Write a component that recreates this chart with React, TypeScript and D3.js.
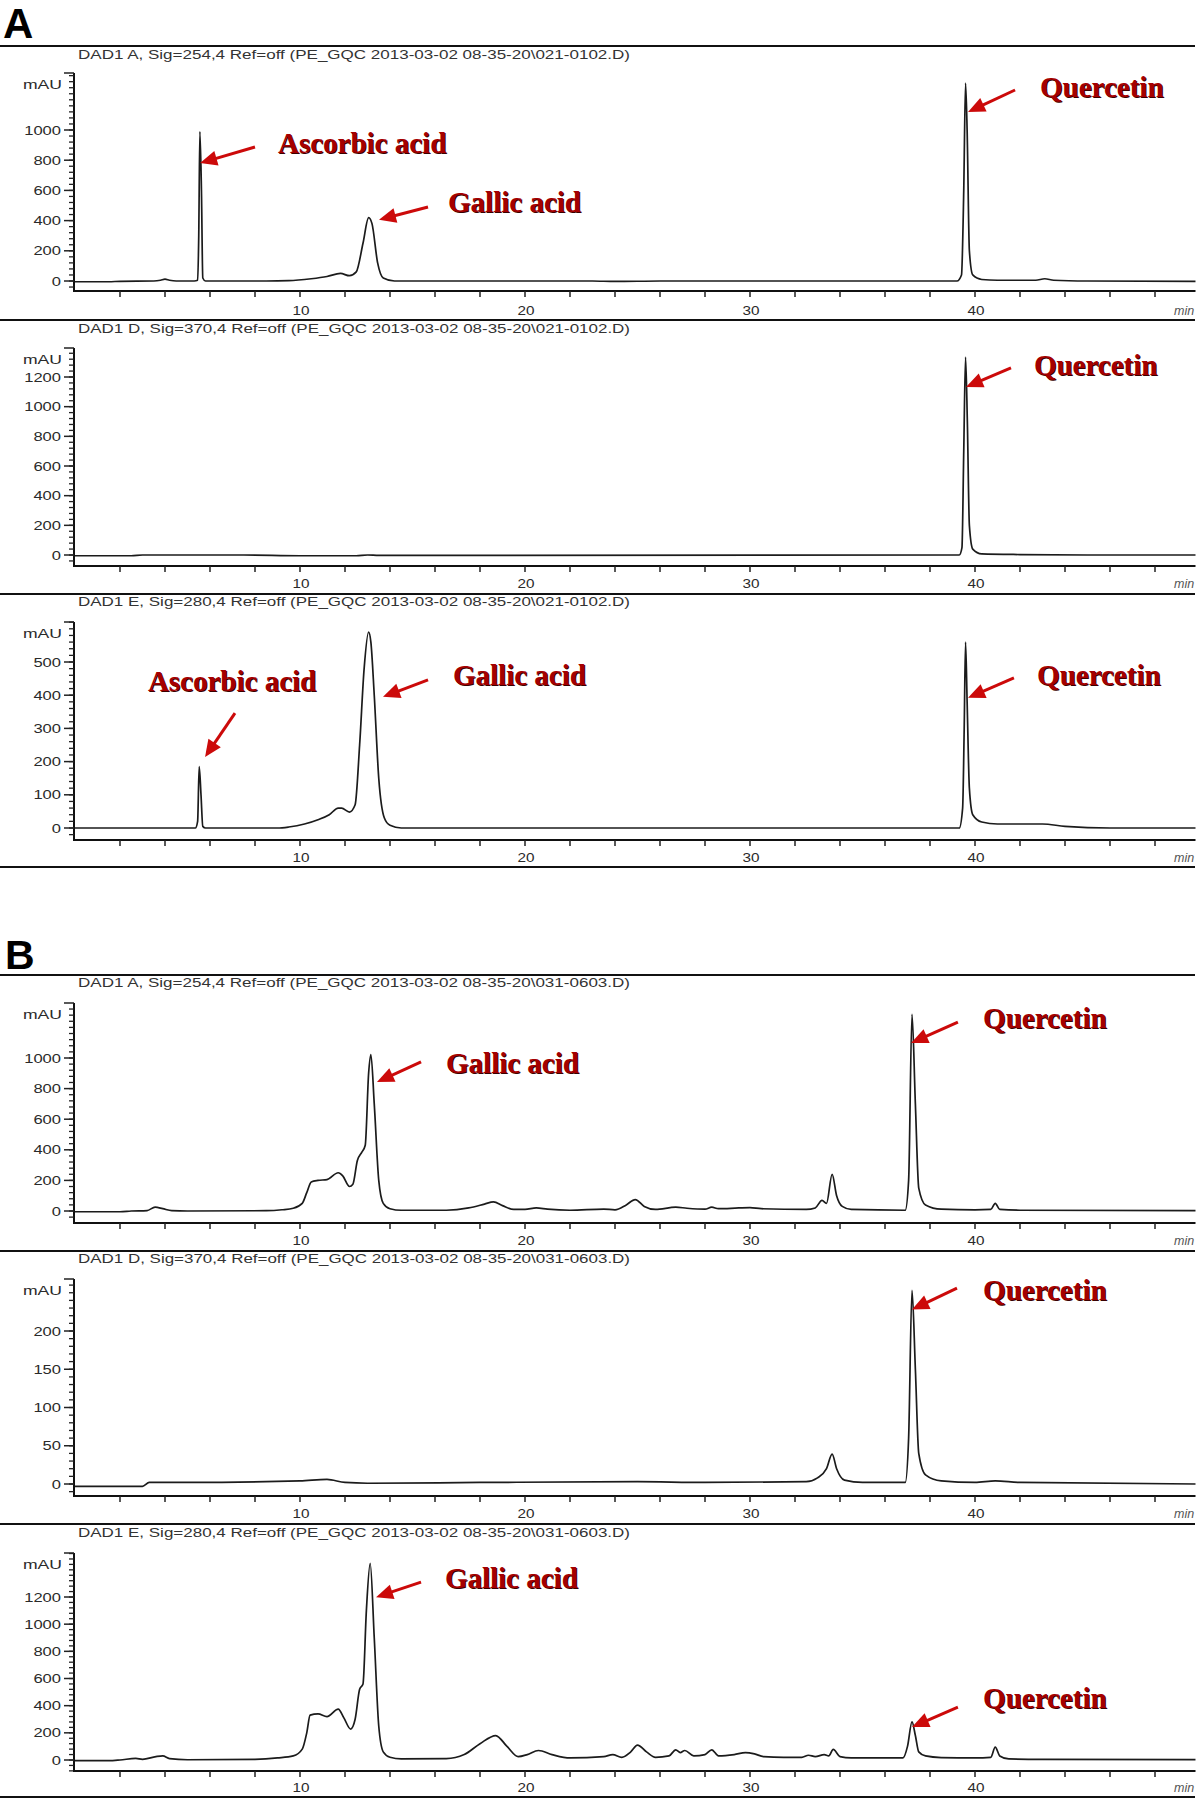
import React from 'react';
import * as d3 from 'd3';

type Pt = [number, number];

// ---------- DATA (time in min, absorbance in mAU) ----------
const A254: Pt[] = [[0,-5],[1.5,-5],[2,-2],[3.5,0],[3.8,5],[4.0,12],[4.2,5],[4.5,0],[5.3,0],[5.45,5],[5.5,300],[5.55,990],[5.62,600],[5.68,20],[5.8,0],[8.5,0],[9.5,2],[10.5,15],[11.2,30],[11.8,50],[12.2,35],[12.5,60],[12.8,250],[13.05,420],[13.2,380],[13.45,120],[13.7,20],[14.2,0],[23,0],[24,-3],[26,0],[39.2,0],[39.4,40],[39.5,600],[39.58,1310],[39.65,1000],[39.75,200],[39.9,40],[40.3,10],[41,5],[42.7,5],[43.1,15],[43.5,5],[45,0],[49.8,-3]];
const A370: Pt[] = [[0,-5],[2.5,-5],[3,0],[7.5,0],[10,-5],[12.5,-5],[13,0],[13.5,-3],[39.3,0],[39.42,50],[39.5,700],[39.58,1335],[39.66,900],[39.75,200],[39.9,40],[40.3,8],[42,3],[45,0],[49.8,0]];
const A280: Pt[] = [[0,0],[5.35,0],[5.45,20],[5.52,185],[5.6,100],[5.68,5],[5.8,0],[9,0],[9.5,3],[10.2,12],[10.8,25],[11.3,40],[11.7,60],[11.85,60],[12.2,48],[12.45,70],[12.65,250],[12.85,480],[13.05,590],[13.15,560],[13.3,400],[13.5,150],[13.75,30],[14,8],[14.5,0],[39.3,0],[39.45,60],[39.52,300],[39.58,560],[39.65,380],[39.75,120],[39.9,40],[40.3,18],[41,12],[43,12],[44,5],[46,0],[49.8,0]];
const B254: Pt[] = [[0,-5],[2,-5],[2.5,0],[3.2,3],[3.56,25],[3.9,15],[4.3,2],[5,0],[8.5,2],[9.2,8],[9.7,18],[10.1,50],[10.3,120],[10.5,190],[10.8,200],[11.2,205],[11.7,250],[11.9,230],[12.2,160],[12.35,175],[12.55,330],[12.75,385],[12.9,430],[13.05,900],[13.15,1023],[13.3,700],[13.5,200],[13.7,50],[14,15],[14.5,5],[16.5,5],[17.5,20],[18.2,45],[18.6,60],[19,35],[19.5,10],[20,10],[20.5,20],[21,12],[22,5],[23.5,12],[24,8],[24.5,40],[24.9,75],[25.3,30],[25.8,10],[26.7,25],[27.2,18],[28,12],[28.3,25],[28.6,15],[29.5,20],[30,22],[30.5,15],[32.5,10],[32.9,20],[33.2,70],[33.4,50],[33.65,240],[33.85,100],[34.1,30],[34.5,10],[36.9,5],[37.05,200],[37.2,1285],[37.35,700],[37.5,150],[37.8,40],[38.5,12],[40,8],[40.7,10],[40.9,50],[41.1,10],[42,5],[49.8,2]];
const B370: Pt[] = [[0,-3],[3,-3],[3.3,2],[5,2],[10,4],[11.2,6],[12,2],[13,1],[18,2],[25,3],[28,2],[32.5,3],[33,8],[33.4,20],[33.65,39],[33.85,20],[34.2,5],[35,2],[36.9,2],[37.05,60],[37.2,253],[37.35,150],[37.5,40],[37.8,12],[38.5,4],[40,2],[40.9,4],[42,2],[49.8,0]];
const B280: Pt[] = [[0,-5],[1.5,-5],[2,0],[2.7,12],[3,5],[3.6,25],[3.9,30],[4.2,10],[5,2],[8,5],[9,15],[9.7,30],[10.1,80],[10.3,200],[10.45,330],[10.8,340],[11.2,320],[11.7,375],[11.95,310],[12.25,228],[12.45,300],[12.65,520],[12.8,560],[12.95,1100],[13.12,1448],[13.3,900],[13.5,250],[13.7,60],[14,20],[14.5,8],[16.5,10],[17.3,40],[18,120],[18.7,180],[19.2,100],[19.7,25],[20.1,40],[20.6,70],[21.2,40],[22,15],[23.5,25],[23.9,40],[24.3,20],[24.7,60],[25,110],[25.4,60],[25.8,20],[26.4,30],[26.7,75],[26.9,55],[27.1,70],[27.5,30],[28,40],[28.3,75],[28.6,30],[29.3,40],[29.8,55],[30.2,45],[30.6,25],[31.5,20],[32.3,20],[32.6,35],[32.9,25],[33.3,40],[33.5,30],[33.7,78],[34,25],[34.5,15],[36.8,15],[37.0,100],[37.2,280],[37.35,180],[37.5,60],[37.8,30],[38.5,18],[40,15],[40.7,20],[40.9,95],[41.1,30],[41.5,8],[43,5],[49.8,3]];

const TITLES = [
  'DAD1 A, Sig=254,4 Ref=off (PE_GQC 2013-03-02 08-35-20\\021-0102.D)',
  'DAD1 D, Sig=370,4 Ref=off (PE_GQC 2013-03-02 08-35-20\\021-0102.D)',
  'DAD1 E, Sig=280,4 Ref=off (PE_GQC 2013-03-02 08-35-20\\021-0102.D)',
  'DAD1 A, Sig=254,4 Ref=off (PE_GQC 2013-03-02 08-35-20\\031-0603.D)',
  'DAD1 D, Sig=370,4 Ref=off (PE_GQC 2013-03-02 08-35-20\\031-0603.D)',
  'DAD1 E, Sig=280,4 Ref=off (PE_GQC 2013-03-02 08-35-20\\031-0603.D)',
];

const TICKS_A254 = [0, 200, 400, 600, 800, 1000];
const TICKS_A370 = [0, 200, 400, 600, 800, 1000, 1200];
const TICKS_A280 = [0, 100, 200, 300, 400, 500];
const TICKS_B254 = [0, 200, 400, 600, 800, 1000];
const TICKS_B370 = [0, 50, 100, 150, 200];
const TICKS_B280 = [0, 200, 400, 600, 800, 1000, 1200];

const X_LABELS = [10, 20, 30, 40];
const X_MINOR = [2, 4, 6, 8, 10, 12, 14, 16, 18, 20, 22, 24, 26, 28, 30, 32, 34, 36, 38, 40, 42, 44, 46, 48];

// annotations: label, arrow tip (t, v), arrow tail (t, v), text anchor (t, v)
type Note = { label: string; tip: Pt; tail: Pt; text: Pt };
const NOTES_A254: Note[] = [
  { label: 'Ascorbic acid', tip: [5.56, 781], tail: [8.0, 887], text: [9.02, 848] },
  { label: 'Gallic acid', tip: [13.51, 405], tail: [15.69, 490], text: [16.58, 457] },
  { label: 'Quercetin', tip: [39.69, 1119], tail: [41.78, 1265], text: [42.89, 1219] },
];
const NOTES_A370: Note[] = [
  { label: 'Quercetin', tip: [39.6, 1133], tail: [41.6, 1261], text: [42.62, 1214] },
];
const NOTES_A280: Note[] = [
  { label: 'Ascorbic acid', tip: [5.78, 214], tail: [7.11, 346], text: [3.24, 413] },
  { label: 'Gallic acid', tip: [13.69, 395], tail: [15.69, 446], text: [16.8, 431] },
  { label: 'Quercetin', tip: [39.69, 392], tail: [41.73, 452], text: [42.76, 431] },
];
const NOTES_B254: Note[] = [
  { label: 'Gallic acid', tip: [13.42, 843], tail: [15.38, 974], text: [16.49, 902] },
  { label: 'Quercetin', tip: [37.16, 1098], tail: [39.24, 1235], text: [40.36, 1196] },
];
const NOTES_B370: Note[] = [
  { label: 'Quercetin', tip: [37.2, 228], tail: [39.2, 256], text: [40.36, 240] },
];
const NOTES_B280: Note[] = [
  { label: 'Gallic acid', tip: [13.38, 1199], tail: [15.38, 1309], text: [16.44, 1265] },
  { label: 'Quercetin', tip: [37.2, 243], tail: [39.24, 390], text: [40.36, 382] },
];

// ---------- LAYOUT ----------
const X_END = 49.8;
const x = d3.scaleLinear().domain([0, 10]).range([75, 300]);

type Panel = {
  sep: number; titleY: number; axisTop: number; zeroY: number; refVal: number; refY: number;
  xAxisY: number; labelY: number; data: Pt[]; ticks: number[]; minor: number; title: string; notes: Note[];
};

const PANELS: Panel[] = [
  { sep: 46, titleY: 59, axisTop: 73, zeroY: 281, refVal: 1000, refY: 130, xAxisY: 291, labelY: 315, data: A254, ticks: TICKS_A254, minor: 40, title: TITLES[0], notes: NOTES_A254 },
  { sep: 320, titleY: 333, axisTop: 348, zeroY: 555, refVal: 1200, refY: 377, xAxisY: 566, labelY: 588, data: A370, ticks: TICKS_A370, minor: 40, title: TITLES[1], notes: NOTES_A370 },
  { sep: 594, titleY: 606, axisTop: 622, zeroY: 828, refVal: 500, refY: 662, xAxisY: 840, labelY: 862, data: A280, ticks: TICKS_A280, minor: 20, title: TITLES[2], notes: NOTES_A280 },
  { sep: 975, titleY: 987, axisTop: 1003, zeroY: 1211, refVal: 1000, refY: 1058, xAxisY: 1223, labelY: 1245, data: B254, ticks: TICKS_B254, minor: 40, title: TITLES[3], notes: NOTES_B254 },
  { sep: 1251, titleY: 1263, axisTop: 1279, zeroY: 1484, refVal: 200, refY: 1331, xAxisY: 1496, labelY: 1518, data: B370, ticks: TICKS_B370, minor: 10, title: TITLES[4], notes: NOTES_B370 },
  { sep: 1524, titleY: 1537, axisTop: 1553, zeroY: 1760, refVal: 1200, refY: 1597, xAxisY: 1771, labelY: 1792, data: B280, ticks: TICKS_B280, minor: 40, title: TITLES[5], notes: NOTES_B280 },
];
const BOTTOM_SEPS = [867, 1797];

const RED = '#cc0a0a';
const TEXT_RED = '#a50000';

function Arrow({ x1, y1, x2, y2 }: { x1: number; y1: number; x2: number; y2: number }) {
  const dx = x2 - x1, dy = y2 - y1;
  const len = Math.hypot(dx, dy);
  const ux = dx / len, uy = dy / len;
  const hl = 17, hw = 7.5;
  const bx = x2 - ux * hl, by = y2 - uy * hl;
  const pts = [[x2, y2], [bx - uy * hw, by + ux * hw], [bx + uy * hw, by - ux * hw]];
  return (
    <g>
      <line x1={x1} y1={y1} x2={bx + ux * 2} y2={by + uy * 2} stroke={RED} strokeWidth={3} />
      <polygon points={pts.map((p) => p.join(',')).join(' ')} fill={RED} />
    </g>
  );
}

function PanelView({ p }: { p: Panel }) {
  const y = d3.scaleLinear().domain([0, p.refVal]).range([p.zeroY, p.refY]);
  const topVal = y.invert(p.axisTop);
  const botVal = y.invert(p.xAxisY);
  const minors = d3.range(Math.ceil(botVal / p.minor) * p.minor, topVal + 0.001, p.minor);
  const line = d3.line<Pt>().x((d) => x(d[0])).y((d) => y(d[1])).curve(d3.curveMonotoneX);
  const axisX = x(0) - 1;
  const tickFont = { fontFamily: 'Liberation Sans, Arial, sans-serif', fontSize: 12.5, fill: '#2a2a2a' } as const;
  return (
    <g>
      <line x1={0} x2={1195} y1={p.sep} y2={p.sep} stroke="#111" strokeWidth={2} />
      <text x={78} y={p.titleY} textLength={552} lengthAdjust="spacingAndGlyphs" style={{ fontFamily: 'Liberation Sans, Arial, sans-serif', fontSize: 12, fill: '#333' }}>{p.title}</text>
      {/* y axis */}
      <line x1={axisX} x2={axisX} y1={p.axisTop} y2={p.xAxisY} stroke="#111" strokeWidth={2} />
      {minors.map((v) => (
        <line key={'m' + v} x1={axisX - 5} x2={axisX} y1={y(v)} y2={y(v)} stroke="#222" strokeWidth={1.3} />
      ))}
      {p.ticks.map((v) => (
        <g key={'t' + v}>
          <line x1={axisX - 10} x2={axisX} y1={y(v)} y2={y(v)} stroke="#222" strokeWidth={1.5} />
          <text x={61} y={y(v) + 4.5} textAnchor="end" textLength={String(v).length * 9.2} lengthAdjust="spacingAndGlyphs" style={tickFont}>{v}</text>
        </g>
      ))}
      <line x1={axisX - 10} x2={axisX} y1={p.axisTop} y2={p.axisTop} stroke="#222" strokeWidth={1.5} />
      <text x={62} y={p.axisTop + 16} textAnchor="end" textLength={39} lengthAdjust="spacingAndGlyphs" style={tickFont}>mAU</text>
      {/* x axis */}
      <line x1={axisX - 1} x2={x(X_END)} y1={p.xAxisY} y2={p.xAxisY} stroke="#111" strokeWidth={2} />
      {X_MINOR.map((t) => (
        <line key={'x' + t} x1={x(t)} x2={x(t)} y1={p.xAxisY} y2={p.xAxisY + 6} stroke="#222" strokeWidth={1.5} />
      ))}
      {X_LABELS.map((t) => (
        <text key={'xl' + t} x={x(t) + 1} y={p.labelY} textAnchor="middle" textLength={17} lengthAdjust="spacingAndGlyphs" style={tickFont}>{t}</text>
      ))}
      <text x={1174} y={p.labelY} style={{ ...tickFont, fontStyle: 'italic', fill: '#555' }} clipPath="url(#clipR)">min</text>
      {/* trace */}
      <path d={line(p.data) || ''} fill="none" stroke="#1b1b1b" strokeWidth={1.7} strokeLinejoin="round" clipPath="url(#clipR)" />
      {/* annotations */}
      {p.notes.map((n, i) => (
        <g key={'n' + i}>
          <Arrow x1={x(n.tail[0])} y1={y(n.tail[1])} x2={x(n.tip[0])} y2={y(n.tip[1])} />
          <text x={x(n.text[0]) + 1} y={y(n.text[1]) + 1} style={{ fontFamily: 'Liberation Serif, Times New Roman, serif', fontWeight: 700, fontSize: 29, fill: '#3a0000' }}>{n.label}</text>
          <text x={x(n.text[0])} y={y(n.text[1])} style={{ fontFamily: 'Liberation Serif, Times New Roman, serif', fontWeight: 700, fontSize: 29, fill: TEXT_RED }}>{n.label}</text>
        </g>
      ))}
    </g>
  );
}

export default function App() {
  return (
    <svg width={1200} height={1802} style={{ position: 'absolute', left: 0, top: 0, background: '#fff' }}>
      <defs>
        <clipPath id="clipR">
          <rect x={0} y={0} width={1196} height={1802} />
        </clipPath>
      </defs>
      <rect x={0} y={0} width={1200} height={1802} fill="#fff" />
      <text x={3} y={38} style={{ fontFamily: 'Liberation Sans, Arial, sans-serif', fontWeight: 700, fontSize: 42, fill: '#000' }}>A</text>
      <text x={5} y={969} style={{ fontFamily: 'Liberation Sans, Arial, sans-serif', fontWeight: 700, fontSize: 41, fill: '#000' }}>B</text>
      {PANELS.map((p, i) => <PanelView key={i} p={p} />)}
      {BOTTOM_SEPS.map((s) => <line key={s} x1={0} x2={1195} y1={s} y2={s} stroke="#111" strokeWidth={2} />)}
    </svg>
  );
}
